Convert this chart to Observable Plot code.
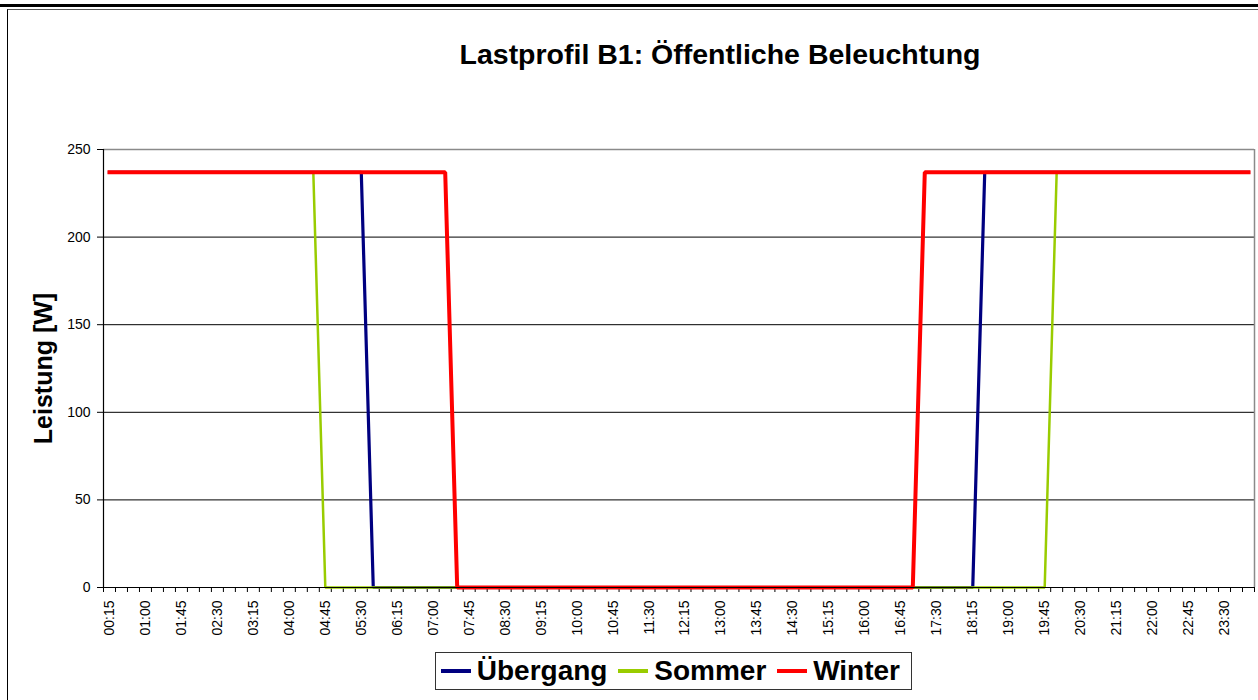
<!DOCTYPE html>
<html><head><meta charset="utf-8">
<script src="https://cdn.jsdelivr.net/npm/d3@7"></script>
<script src="https://cdn.jsdelivr.net/npm/@observablehq/plot@0.6"></script>
<style>
body{margin:0;background:#fff;font-family:"Liberation Sans",Arial,sans-serif;}
#wrap{position:relative;width:1258px;height:700px;overflow:hidden;background:#fff}
#topline{position:absolute;left:0;top:4px;width:1258px;height:3px;background:#000}
#frame{position:absolute;left:7px;top:9px;width:1260px;height:700px;border-left:1.5px solid #000;border-top:1.5px solid #555}
#title{position:absolute;left:0;top:39px;width:1440px;text-align:center;font-weight:bold;font-size:28.5px;line-height:31px;color:#000}
#chart{position:absolute;left:0;top:100px}
#legend{position:absolute;left:435px;top:652px;width:477px;height:38px;border:1px solid #333;display:flex;align-items:center;padding-left:5px;box-sizing:border-box;background:#fff}
.sw{display:inline-block;width:34px;height:4px;margin-right:6px}
.lt{font-weight:bold;font-size:28px;margin-right:11px;line-height:30px}
</style></head><body>
<div id="wrap">
 <div id="topline"></div>
 <div id="frame"></div>
 <div id="title">Lastprofil B1: Öffentliche Beleuchtung</div>
 <div id="chart"></div>
 <div id="legend"></div>
</div>
<script>
const times = ["00:15","00:30","00:45","01:00","01:15","01:30","01:45","02:00","02:15","02:30","02:45","03:00",
"03:15","03:30","03:45","04:00","04:15","04:30","04:45","05:00","05:15","05:30","05:45","06:00",
"06:15","06:30","06:45","07:00","07:15","07:30","07:45","08:00","08:15","08:30","08:45","09:00",
"09:15","09:30","09:45","10:00","10:15","10:30","10:45","11:00","11:15","11:30","11:45","12:00",
"12:15","12:30","12:45","13:00","13:15","13:30","13:45","14:00","14:15","14:30","14:45","15:00",
"15:15","15:30","15:45","16:00","16:15","16:30","16:45","17:00","17:15","17:30","17:45","18:00",
"18:15","18:30","18:45","19:00","19:15","19:30","19:45","20:00","20:15","20:30","20:45","21:00",
"21:15","21:30","21:45","22:00","22:15","22:30","22:45","23:00","23:15","23:30","23:45","24:00"];

// Übergang (transition season)
const uebergang = [237,237,237,237,237,237,237,237,237,237,237,237,
237,237,237,237,237,237,237,237,237,237,0,0,
0,0,0,0,0,0,0,0,0,0,0,0,
0,0,0,0,0,0,0,0,0,0,0,0,
0,0,0,0,0,0,0,0,0,0,0,0,
0,0,0,0,0,0,0,0,0,0,0,0,
0,237,237,237,237,237,237,237,237,237,237,237,
237,237,237,237,237,237,237,237,237,237,237,237];

const sommer = [237,237,237,237,237,237,237,237,237,237,237,237,
237,237,237,237,237,237,0,0,0,0,0,0,
0,0,0,0,0,0,0,0,0,0,0,0,
0,0,0,0,0,0,0,0,0,0,0,0,
0,0,0,0,0,0,0,0,0,0,0,0,
0,0,0,0,0,0,0,0,0,0,0,0,
0,0,0,0,0,0,0,237,237,237,237,237,
237,237,237,237,237,237,237,237,237,237,237,237];

const winter = [237,237,237,237,237,237,237,237,237,237,237,237,
237,237,237,237,237,237,237,237,237,237,237,237,
237,237,237,237,237,0,0,0,0,0,0,0,
0,0,0,0,0,0,0,0,0,0,0,0,
0,0,0,0,0,0,0,0,0,0,0,0,
0,0,0,0,0,0,0,0,237,237,237,237,
237,237,237,237,237,237,237,237,237,237,237,237,
237,237,237,237,237,237,237,237,237,237,237,237];

const seriesNames = ["Übergang","Sommer","Winter"];
const seriesColors = ["#000080","#99CC00","#FF0000"];
const seriesWidths = [3.2,2.5,4];
const yTicks = [0,50,100,150,200,250];
const yTitle = "Leistung [W]";
const labelStep = 3;

const seriesValues = [uebergang, sommer, winter];
const rows = seriesValues.map(vals => vals.map((v,i)=>({x:i+0.5, v, t:times[i]})));
const labelPos = times.map((t,i)=>i).filter(i=>i%labelStep===0).map(i=>i+0.5);
const boundaries = d3.range(0, times.length+1);
const FONT = "Liberation Sans, Arial, sans-serif";

const chart = Plot.plot({
  width:1258, height:550,
  marginLeft:103, marginRight:4, marginTop:49, marginBottom:63,
  style:{fontFamily:FONT, fontSize:"14px", color:"#000", background:"transparent", overflow:"visible"},
  x:{type:"linear", domain:[0, times.length]},
  y:{domain:[0,250]},
  marks:[
    Plot.ruleY(yTicks.filter(d=>d>0 && d<250), {stroke:"#000", strokeWidth:1}),
    Plot.ruleY([250], {stroke:"#8a8a8a", strokeWidth:1.5}),
    Plot.ruleX([times.length], {stroke:"#8a8a8a", strokeWidth:1.5}),
    Plot.axisY({ticks:yTicks, tickSize:6, tickPadding:7, label:null, stroke:"#000"}),
    Plot.axisX({ticks:boundaries, tickSize:5, tickFormat:()=>"", label:null}),
    Plot.axisX({ticks:labelPos, tickSize:0, tickPadding:13, tickRotate:-90,
      tickFormat:d=>times[Math.round(d-0.5)], label:null}),
    ...rows.map((r,k)=>Plot.line(r, {x:"x", y:"v", stroke:seriesColors[k], strokeWidth:seriesWidths[k],
      strokeLinejoin:"miter", strokeLinecap:"square"})),
    Plot.ruleX([0], {stroke:"#000", strokeWidth:1.2}),
    Plot.ruleY([0], {stroke:"#000", strokeWidth:1.2}),
    Plot.text([yTitle], {frameAnchor:"left", textAnchor:"middle", rotate:-90, dx:-60, fontSize:25, fontWeight:"bold", fill:"#000"})
  ]
});
d3.select(chart).selectAll("text")
  .filter(function(){ return this.textContent !== yTitle; })
  .style("font-size","14px").style("font-family", FONT).attr("font-size", null);
document.getElementById("chart").appendChild(chart);

const leg = document.getElementById("legend");
seriesNames.forEach((n,k)=>{
  const s = document.createElement("span"); s.className="sw"; s.style.background=seriesColors[k];
  const t = document.createElement("span"); t.className="lt"; t.textContent=n;
  leg.appendChild(s); leg.appendChild(t);
});
</script>
</body></html>
